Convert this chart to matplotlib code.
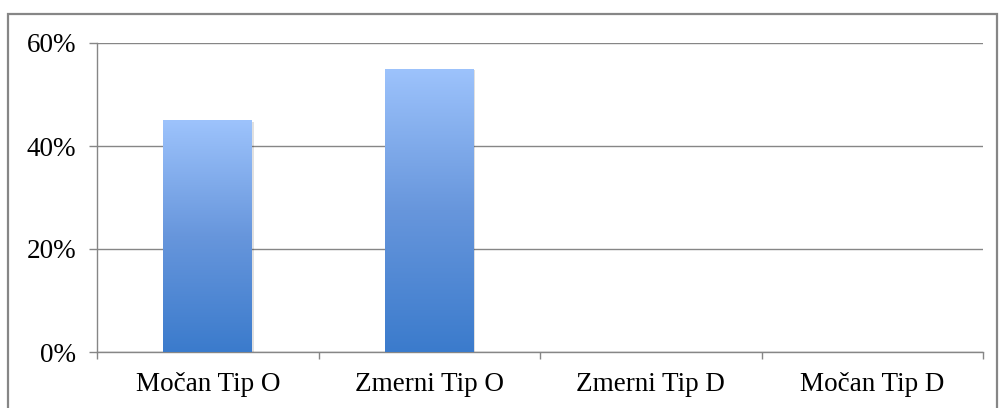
import matplotlib.pyplot as plt
import numpy as np
from matplotlib.colors import LinearSegmentedColormap
from matplotlib.patches import Rectangle
from matplotlib.ticker import PercentFormatter

kategorije = ['Močan Tip O', 'Zmerni Tip O', 'Zmerni Tip D', 'Močan Tip D']
deleži = [45, 55, 0, 0]
y_oznake = [0, 20, 40, 60]

plt.rcParams['font.family'] = ['Liberation Serif', 'DejaVu Serif']
siva = '#868686'

fig = plt.figure(figsize=(9.99, 4.08), dpi=100)
ax = fig.add_axes([97 / 999, 56 / 408, 886 / 999, 309 / 408])

x = np.arange(len(kategorije))
bars = ax.bar(x, deleži, width=0.4, color='none', zorder=3)

# modri gradient od vrha proti dnu stolpca
grad = LinearSegmentedColormap.from_list('g', ['#3b7bcc', '#6796dc', '#9dc3fc'])
for b in bars:
    h = b.get_height()
    if h <= 0:
        continue
    x0, w = b.get_x(), b.get_width()
    # rahla senca
    ax.add_patch(Rectangle((x0 + 0.008, -0.3), w, h, facecolor='#000000', alpha=0.12,
                           edgecolor='none', zorder=2))
    img = ax.imshow(np.linspace(0, 1, 256).reshape(-1, 1), cmap=grad, aspect='auto',
                    origin='lower', extent=[x0, x0 + w, 0, h], zorder=3)
    img.set_clip_path(b)

ax.set_xlim(-0.5, len(kategorije) - 0.5)
ax.set_ylim(0, 60)
ax.set_yticks(y_oznake)
ax.yaxis.set_major_formatter(PercentFormatter(decimals=0))
ax.grid(axis='y', color=siva, linewidth=1, zorder=0)

ax.set_xticks(np.arange(len(kategorije) + 1) - 0.5)
ax.set_xticklabels([])
ax.set_xticks(x, minor=True)
ax.set_xticklabels(kategorije, minor=True)
ax.tick_params(axis='x', which='major', length=5, color=siva, width=1, direction='out')
ax.tick_params(axis='x', which='minor', length=0, pad=14.5, labelsize=19.5)
ax.tick_params(axis='y', length=6, color=siva, width=1, labelsize=19.5, pad=9)

for s in ['top', 'right']:
    ax.spines[s].set_visible(False)
for s in ['left', 'bottom']:
    ax.spines[s].set_color(siva)
    ax.spines[s].set_linewidth(1)
ax.set_axisbelow(True)

# okvir okoli grafikona
fig.patches.append(Rectangle((8 / 999, -0.02), 989 / 999, (408 - 14) / 408 + 0.02,
                             transform=fig.transFigure, fill=False, edgecolor=siva,
                             linewidth=1.6))

fig.savefig('out.png', dpi=100)
